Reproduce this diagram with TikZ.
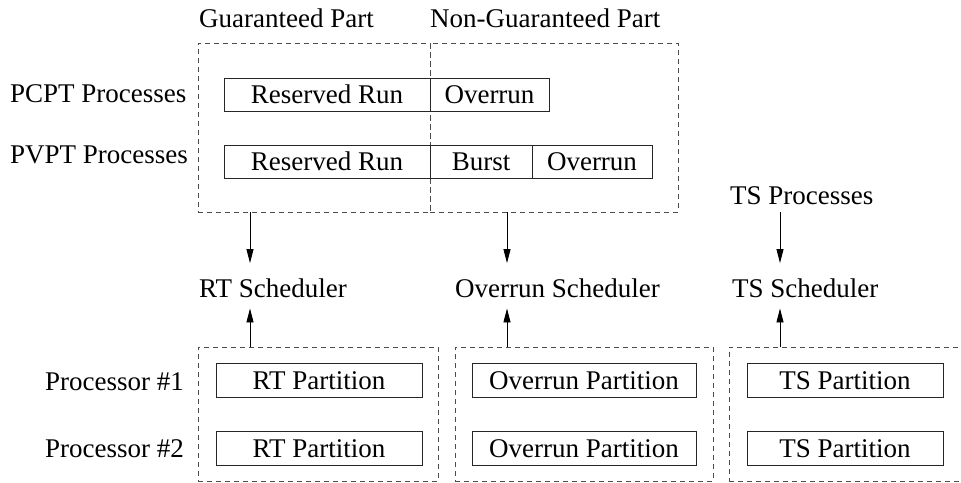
\documentclass[tikz,border=0pt]{standalone}
\usepackage{fontspec}
\setmainfont{LiberationSerif}[Extension=.ttf, UprightFont=*-Regular, BoldFont=*-Bold, ItalicFont=*-Italic]
\usetikzlibrary{arrows.meta}
\begin{document}
\begin{tikzpicture}[x=1pt,y=-1pt,
  font=\rmfamily\fontsize{27}{32}\selectfont,
  partbox/.style={draw=black!70, dash pattern=on 5pt off 4pt, line width=0.9pt, inner sep=0, minimum height=#1},
  seg/.style={draw=black!85, line width=0.9pt, inner sep=0, minimum height=33pt},
  cell/.style={draw=black!85, line width=0.9pt, inner sep=0, minimum height=34pt},
  lbl/.style={inner sep=0, anchor=base west},
  arr/.style={-{Triangle[length=14pt,width=7pt]}, line width=0.9pt}]
\useasboundingbox (0,0) rectangle (961,482);

% guaranteed / non-guaranteed split of process execution
\node[partbox=169pt, minimum width=232pt] (gpart) at (314,127.5) {};
\node[partbox=169pt, minimum width=248pt] (npart) at (554,127.5) {};
\node[lbl] (gtitle) at (199,27) {Guaranteed Part};
\node[lbl] (ntitle) at (430,27) {Non-Guaranteed Part};

\node[lbl] (pcpt) at (10,102) {PCPT Processes};
\node[lbl] (pvpt) at (10,163) {PVPT Processes};

\node[seg, minimum width=206pt] (pcres) at (327,94.5) {Reserved Run};
\node[seg, minimum width=119pt] (pcover) at (489.5,94.5) {Overrun};
\node[seg, minimum width=206pt] (pvres) at (327,161.5) {Reserved Run};
\node[seg, minimum width=102pt] (pvburst) at (481,161.5) {Burst};
\node[seg, minimum width=120pt] (pvover) at (592,161.5) {Overrun};

% schedulers
\node[lbl] (tsp) at (730,204) {TS Processes};
\node[lbl] (rts) at (199,297) {RT Scheduler};
\node[lbl] (ovs) at (455,297) {Overrun Scheduler};
\node[lbl] (tss) at (732,297) {TS Scheduler};

% processor partitions
\node[partbox=134pt, minimum width=240pt] (rtbox) at (318,414) {};
\node[partbox=134pt, minimum width=258pt] (ovbox) at (584,414) {};
\node[partbox=134pt, minimum width=241pt] (tsbox) at (849.5,414) {};

\node[lbl] (proc1) at (45,390) {Processor \#1};
\node[lbl] (proc2) at (45,457) {Processor \#2};

\node[cell, minimum width=206pt] (rt1) at (319,380.5) {RT Partition};
\node[cell, minimum width=206pt] (rt2) at (319,448.5) {RT Partition};
\node[cell, minimum width=224pt] (ov1) at (584,380.5) {Overrun Partition};
\node[cell, minimum width=224pt] (ov2) at (584,448.5) {Overrun Partition};
\node[cell, minimum width=196pt] (ts1) at (845,380.5) {TS Partition};
\node[cell, minimum width=196pt] (ts2) at (845,448.5) {TS Partition};

% arrow columns
\coordinate (xa) at (250,0);
\coordinate (xb) at (507,0);
\coordinate (xc) at (780,0);

\draw[arr, shorten >=15pt] (gpart.south -| xa) -- (rts.north -| xa);
\draw[arr, shorten >=15pt] (npart.south -| xb) -- (ovs.north -| xb);
\draw[arr, shorten <=8pt, shorten >=15pt] (tsp.south -| xc) -- (tss.north -| xc);

\draw[arr, shorten >=11pt] (rtbox.north -| xa) -- (rts.south -| xa);
\draw[arr, shorten >=11pt] (ovbox.north -| xb) -- (ovs.south -| xb);
\draw[arr, shorten >=11pt] (tsbox.north -| xc) -- (tss.south -| xc);
\end{tikzpicture}
\end{document}
